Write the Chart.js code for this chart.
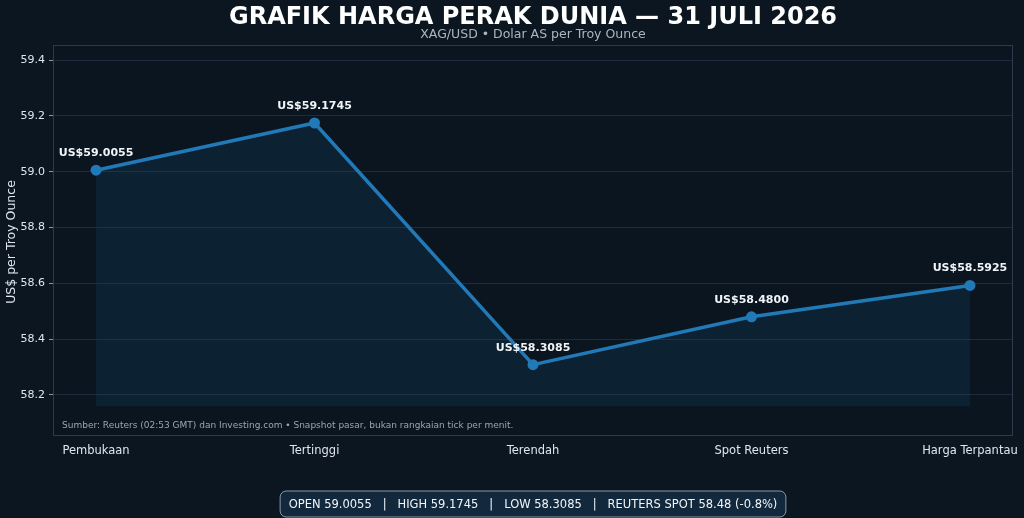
<!DOCTYPE html>
<html>
<head>
<meta charset="utf-8">
<script src="https://cdn.jsdelivr.net/npm/chart.js@4/dist/chart.umd.min.js"></script>
<style>
  html, body { margin: 0; padding: 0; background: #0b1621; }
  #wrap { width: 1024px; height: 518px; position: relative; }
</style>
</head>
<body>
<div id="wrap"><canvas id="silverChart"></canvas></div>
<script>
const categories = ["Pembukaan", "Tertinggi", "Terendah", "Spot Reuters", "Harga Terpantau"];
const prices = [59.0055, 59.1745, 58.3085, 58.48, 58.5925];
const yTicks = [58.2, 58.4, 58.6, 58.8, 59.0, 59.2, 59.4];
const fillBase = 58.16;
const summaryText = "OPEN 59.0055   |   HIGH 59.1745   |   LOW 58.3085   |   REUTERS SPOT 58.48 (-0.8%)";
const sourceNote = "Sumber: Reuters (02:53 GMT) dan Investing.com \u2022 Snapshot pasar, bukan rangkaian tick per menit.";

const FONT = "'DejaVu Sans', sans-serif";

// titles, frame, point labels, footnote and summary box
const decor = {
    id: "decor",
    beforeDraw(chart) {
        const {ctx, chartArea: a} = chart;
        ctx.save();
        ctx.fillStyle = "#0b1621";
        ctx.fillRect(0, 0, chart.width, chart.height);
        ctx.fillStyle = "#0a1520";
        ctx.fillRect(a.left, a.top, a.right - a.left, a.bottom - a.top);
        ctx.restore();
    },
    afterDraw(chart) {
        const {ctx, chartArea: a} = chart;
        const cx = (a.left + a.right) / 2;
        ctx.save();

        // frame
        ctx.strokeStyle = "#2b3b4b";
        ctx.lineWidth = 1;
        ctx.strokeRect(a.left + 0.5, a.top + 0.5, a.right - a.left - 1, a.bottom - a.top - 1);

        // title + subtitle
        ctx.textAlign = "center";
        ctx.textBaseline = "middle";
        ctx.fillStyle = "#ffffff";
        ctx.font = "bold 24px " + FONT;
        ctx.fillText("GRAFIK HARGA PERAK DUNIA \u2014 31 JULI 2026", cx, 18);
        ctx.fillStyle = "#aab6c2";
        ctx.font = "12.5px " + FONT;
        ctx.fillText("XAG/USD \u2022 Dolar AS per Troy Ounce", cx, 35);

        // y axis title
        ctx.save();
        ctx.translate(12, 242);
        ctx.rotate(-Math.PI / 2);
        ctx.fillStyle = "#dfe6ee";
        ctx.font = "12.5px " + FONT;
        ctx.fillText("US$ per Troy Ounce", 0, 0);
        ctx.restore();

        // value labels
        const meta = chart.getDatasetMeta(0);
        ctx.fillStyle = "#f2f5f8";
        ctx.font = "bold 11px " + FONT;
        meta.data.forEach((pt, i) => {
            ctx.fillText("US$" + prices[i].toFixed(4), pt.x, pt.y - 17);
        });

        // footnote
        ctx.textAlign = "left";
        ctx.fillStyle = "#9aa6b2";
        ctx.font = "9px " + FONT;
        ctx.fillText(sourceNote, a.left + 9, a.bottom - 10);

        // summary box
        ctx.font = "11.5px " + FONT;
        const tw = ctx.measureText(summaryText).width;
        const bw = tw + 17, bh = 26;
        const bx = cx - bw / 2, by = 491;
        ctx.beginPath();
        ctx.roundRect(bx, by, bw, bh, 6);
        ctx.fillStyle = "#12283c";
        ctx.fill();
        ctx.strokeStyle = "#8a9aa8";
        ctx.lineWidth = 1;
        ctx.stroke();
        ctx.fillStyle = "#f2f5f8";
        ctx.textAlign = "center";
        ctx.fillText(summaryText, cx, by + bh / 2 + 1);

        ctx.restore();
    }
};

new Chart(document.getElementById("silverChart"), {
    type: "line",
    data: {
        datasets: [{
            data: prices.map((v, i) => ({x: i, y: v})),
            borderColor: "#2179b8",
            backgroundColor: "rgba(31,119,180,0.13)",
            borderWidth: 3.5,
            pointRadius: 5.5,
            pointBackgroundColor: "#2179b8",
            pointBorderWidth: 0,
            fill: {value: fillBase},
            tension: 0
        }]
    },
    options: {
        responsive: true,
        maintainAspectRatio: false,
        animation: false,
        layout: {padding: {top: 45, right: 11, bottom: 52, left: 0}},
        plugins: {legend: {display: false}, tooltip: {enabled: false}},
        scales: {
            x: {
                type: "linear",
                min: -0.197,
                max: 4.197,
                afterBuildTicks(scale) { scale.ticks = categories.map((c, i) => ({value: i})); },
                afterFit(scale) { scale.height = 30; },
                ticks: {
                    callback: (v) => categories[v],
                    color: "#dfe6ee",
                    font: {family: FONT, size: 11.5},
                    padding: 4,
                    maxRotation: 0,
                    autoSkip: false
                },
                grid: {display: false, drawTicks: true, tickLength: 4, tickColor: "#8a9aa8"},
                border: {display: false}
            },
            y: {
                min: 58.053,
                max: 59.454,
                afterBuildTicks(scale) { scale.ticks = yTicks.map(v => ({value: v})); },
                afterFit(scale) { scale.width = 53; },
                ticks: {
                    callback: (v) => v.toFixed(1),
                    color: "#dfe6ee",
                    font: {family: FONT, size: 11},
                    padding: 4
                },
                grid: {color: "#1c2c3c", lineWidth: 1, tickLength: 4, tickColor: "#8a9aa8"},
                border: {display: false}
            }
        }
    },
    plugins: [decor]
});
</script>
</body>
</html>
